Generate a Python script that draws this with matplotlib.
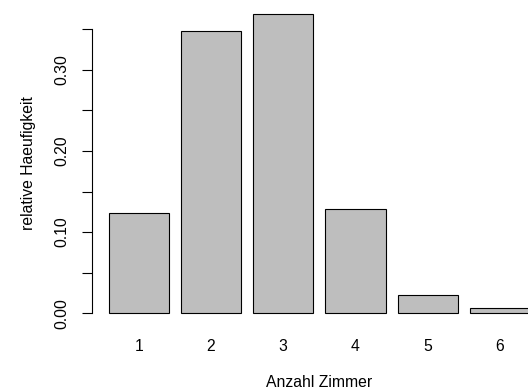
import numpy as np
import matplotlib.pyplot as plt

# Daten: relative Haeufigkeit der Zimmeranzahl
zimmer = ["1", "2", "3", "4", "5", "6"]
rel_haeuf = [0.124, 0.348, 0.369, 0.128, 0.0225, 0.0065]

plt.rcParams["font.family"] = ["Liberation Sans", "DejaVu Sans"]
fs = 11.3

fig = plt.figure(figsize=(5.28, 3.92), dpi=100)
# plot region like R barplot (extends past the right edge of the picture)
ax = fig.add_axes([91.7 / 528, 66.7 / 392, 455.3 / 528, 323.6 / 392])

# R style positions: width 1, space 0.2
pos = 0.2 + np.arange(len(zimmer)) * 1.2 + 0.5
ax.bar(pos, rel_haeuf, width=1.0, color="#bebebe", edgecolor="black", linewidth=0.8)

lo, hi = 0.2, pos[-1] + 0.5
ax.set_xlim(lo - 0.04 * (hi - lo), hi + 0.04 * (hi - lo))
ymax = max(rel_haeuf)
ax.set_ylim(-0.04 * ymax, ymax * 1.04)

for s in ["top", "right", "bottom"]:
    ax.spines[s].set_visible(False)
ax.spines["left"].set_bounds(0, 0.35)
ax.spines["left"].set_linewidth(0.8)

yt = np.arange(0, 0.351, 0.05)
ax.set_yticks(yt)
ax.set_yticklabels([f"{v:.2f}" if i % 2 == 0 else "" for i, v in enumerate(yt)],
                   rotation=90, va="center", fontsize=fs)
ax.tick_params(axis="y", length=7.2, width=0.8, pad=9)

ax.set_xticks(pos)
ax.set_xticklabels(zimmer, fontsize=fs)
ax.tick_params(axis="x", length=0, pad=10)

ax.set_xlabel("Anzahl Zimmer", fontsize=fs, labelpad=15)
ax.set_ylabel("relative Haeufigkeit", fontsize=fs, labelpad=13)

fig.savefig("out.png", dpi=100)
